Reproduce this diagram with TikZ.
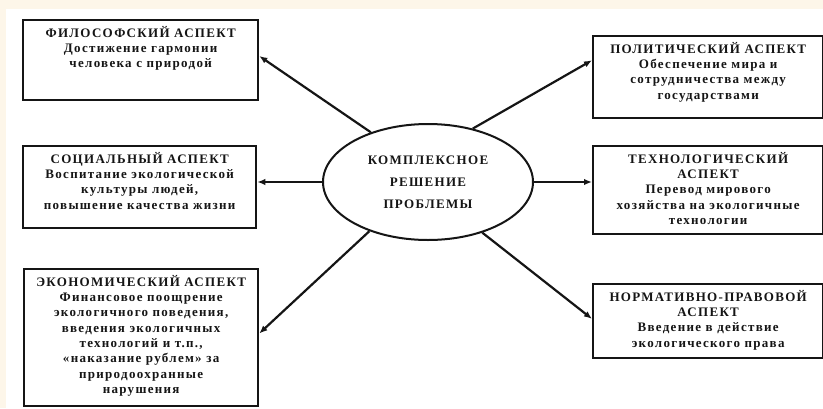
\documentclass[tikz,border=0pt]{standalone}
\usepackage{fontspec}
\usetikzlibrary{arrows.meta,shapes.geometric,calc}
\newfontfamily\boxfont[LetterSpace=10]{Liberation Serif}
\definecolor{cream}{HTML}{FDF6E9}
\definecolor{ink}{HTML}{151515}
\tikzset{
  box/.style={draw=ink, line width=2.3pt, inner sep=0pt, anchor=north west},
  txt/.style={align=center, text=ink, font=\boxfont\bfseries\fontsize{13}{15.3}\selectfont, inner sep=0pt, anchor=north},
  hub/.style={draw=ink, ellipse, line width=2pt, inner sep=0pt, align=center, text=ink,
    font=\boxfont\bfseries\fontsize{13}{22}\selectfont},
  arr/.style={draw=ink, line width=2.2pt, -{Latex[length=8pt,width=6.5pt]}}
}
\begin{document}
\begin{tikzpicture}[x=1pt,y=-1pt]
\fill[cream] (0,0) rectangle (823,408);
\fill[white] (6,9) rectangle (823,408);
\useasboundingbox (0,0) rectangle (823,408);

\node[box, minimum width=235pt, minimum height=80pt] (b1) at (22,19) {};
\node[box, minimum width=233pt, minimum height=82pt] (b2) at (22,145) {};
\node[box, minimum width=234pt, minimum height=137pt] (b3) at (23,268) {};
\node[box, minimum width=230pt, minimum height=82pt] (b4) at (592,35) {};
\node[box, minimum width=230pt, minimum height=88pt] (b5) at (592,145) {};
\node[box, minimum width=230pt, minimum height=74pt] (b6) at (592,283) {};

\node[txt] (t1) at ([yshift=-7pt]b1.north) {ФИЛОСОФСКИЙ АСПЕКТ\\Достижение гармонии\\человека с природой};
\node[txt] (t2) at ([yshift=-7pt]b2.north) {СОЦИАЛЬНЫЙ АСПЕКТ\\Воспитание экологической\\культуры людей,\\повышение качества жизни};
\node[txt] (t3) at ([yshift=-7pt]b3.north) {ЭКОНОМИЧЕСКИЙ АСПЕКТ\\Финансовое поощрение\\экологичного поведения,\\введения экологичных\\технологий и т.п.,\\«наказание рублем» за\\природоохранные\\нарушения};
\node[txt] (t4) at ([yshift=-7pt]b4.north) {ПОЛИТИЧЕСКИЙ АСПЕКТ\\Обеспечение мира и\\сотрудничества между\\государствами};
\node[txt] (t5) at ([yshift=-7pt]b5.north) {ТЕХНОЛОГИЧЕСКИЙ\\АСПЕКТ\\Перевод мирового\\хозяйства на экологичные\\технологии};
\node[txt] (t6) at ([yshift=-7pt]b6.north) {НОРМАТИВНО-ПРАВОВОЙ\\АСПЕКТ\\Введение в действие\\экологического права};

\node[hub, minimum width=210pt, minimum height=116pt] (e) at (428,182) {КОМПЛЕКСНОЕ\\РЕШЕНИЕ\\ПРОБЛЕМЫ};

\draw[arr] (e.139) -- ($(b1.north east)!0.45!(b1.south east)$);
\draw[arr] (e.west) -- (e.west -| b2.east);
\draw[arr] (e.220) -- ($(b3.north east)!0.47!(b3.south east)$);
\draw[arr] (e.50) -- ($(b4.north west)!0.3!(b4.south west)$);
\draw[arr] (e.east) -- (e.east -| b5.west);
\draw[arr] (e.317) -- ($(b6.north west)!0.47!(b6.south west)$);
\end{tikzpicture}
\end{document}
